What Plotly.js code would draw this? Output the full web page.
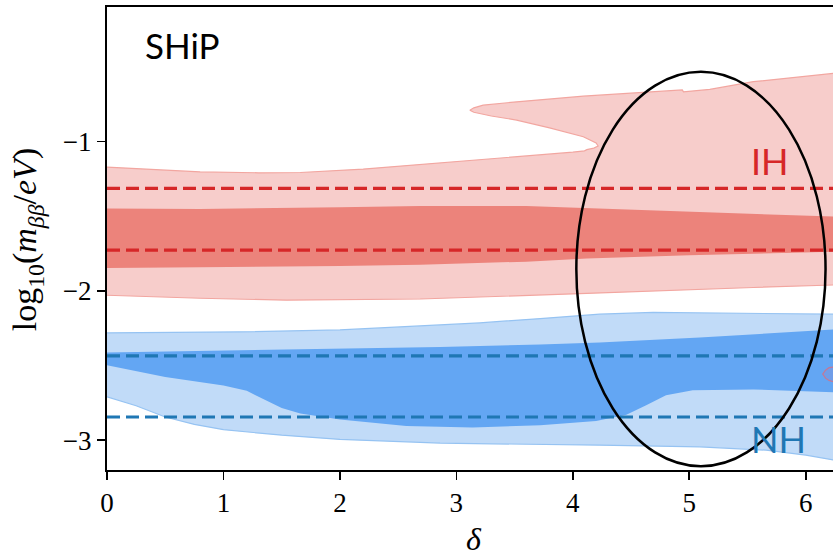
<!DOCTYPE html>
<html>
<head>
<meta charset="utf-8">
<script src="https://cdn.plot.ly/plotly-3.0.1.min.js"></script>
<style>html,body{margin:0;padding:0;background:#fff;}#chart{width:833px;height:558px;}</style>
</head>
<body>
<div id="chart"></div>
<script>
// ---- data ----
// IH 2-sigma region (light red): outer boundary path, upper part (incl. the tongue)
const ihOuterUpperX = [0, 0.4, 0.8, 1.3, 1.66, 2.2, 2.69, 2.94, 3.2, 3.517, 3.8, 4.0, 4.10, 4.12, 4.18, 4.217, 4.2, 4.15, 4.10, 4.09, 3.8, 3.517, 3.3, 3.23, 3.15, 3.116, 3.15, 3.23, 3.517, 4.09, 4.66, 4.94, 4.95, 5.176, 5.55, 6.0, 6.29];
const ihOuterUpperY = [-1.172, -1.19, -1.204, -1.21, -1.208, -1.185, -1.155, -1.137, -1.125, -1.103, -1.085, -1.072, -1.063, -1.055, -1.045, -1.031, -1.01, -0.99, -0.975, -0.969, -0.909, -0.857, -0.83, -0.819, -0.805, -0.791, -0.775, -0.757, -0.735, -0.697, -0.67, -0.655, -0.668, -0.652, -0.60, -0.565, -0.54];
const ihOuterLowerX = [0, 0.8, 1.54, 2.69, 3.0, 4.12, 5.55, 6.29];
const ihOuterLowerY = [-2.03, -2.05, -2.063, -2.055, -2.045, -2.018, -1.978, -1.96];
// IH 1-sigma region (dark red)
const ihInnerX = [0, 0.8, 2.0, 2.69, 3.6, 4.12, 5.0, 5.55, 6.12, 6.29];
const ihInnerTop = [-1.449, -1.452, -1.44, -1.433, -1.433, -1.447, -1.47, -1.485, -1.50, -1.505];
const ihInnerBot = [-1.847, -1.842, -1.834, -1.825, -1.805, -1.784, -1.762, -1.75, -1.741, -1.738];
// NH 2-sigma region (light blue)
const nhOuterTopX = [0, 1.14, 2.0, 2.57, 3.2, 3.72, 4.23, 4.69, 5.09, 5.7, 6.29];
const nhOuterTopY = [-2.282, -2.275, -2.262, -2.242, -2.215, -2.186, -2.157, -2.145, -2.148, -2.153, -2.157];
const nhOuterBotX = [0, 0.25, 0.5, 0.75, 1.0, 1.5, 2.0, 2.86, 4.23, 5.09, 5.66, 6.0, 6.29];
const nhOuterBotY = [-2.71, -2.77, -2.845, -2.895, -2.93, -2.967, -2.995, -3.02, -3.034, -3.045, -3.067, -3.10, -3.14];
// NH 1-sigma region (dark blue)
const nhInnerTopX = [0, 1.71, 2.86, 3.72, 4.23, 5.09, 6.29];
const nhInnerTopY = [-2.413, -2.393, -2.376, -2.36, -2.346, -2.313, -2.257];
const nhInnerBotX = [0, 0.5, 0.8, 1.0, 1.2, 1.35, 1.5, 1.66, 2.0, 2.57, 3.14, 3.72, 4.2, 4.46, 4.63, 4.80, 5.03, 5.55, 6.29];
const nhInnerBotY = [-2.498, -2.577, -2.61, -2.635, -2.67, -2.725, -2.785, -2.822, -2.862, -2.905, -2.916, -2.90, -2.872, -2.83, -2.766, -2.70, -2.666, -2.661, -2.68];
// small contour near right edge
const smallX = [6.30, 6.24, 6.2, 6.17, 6.146, 6.17, 6.2, 6.24, 6.30];
const smallY = [-2.505, -2.508, -2.515, -2.532, -2.558, -2.585, -2.60, -2.61, -2.613];
// reference (dashed) levels
const ihLevels = [-1.315, -1.728];
const nhLevels = [-2.436, -2.845];
const dashX = [0, 6.3];
// ellipse (SHiP sensitivity region)
const ellX = [4.03, 6.17];
const ellY = [-3.175, -0.534];
// axis ticks
const xTicks = [0, 1, 2, 3, 4, 5, 6];
const yTicks = [-1, -2, -3];

function band(xu, yu, xl, yl) {
  return { x: xu.concat(xl.slice().reverse()), y: yu.concat(yl.slice().reverse()) };
}

const traces = [];
const ihO = band(ihOuterUpperX, ihOuterUpperY, ihOuterLowerX, ihOuterLowerY);
traces.push({x: ihO.x, y: ihO.y, mode: 'lines', fill: 'toself', fillcolor: 'rgb(247,205,203)',
  line: {color: 'rgb(242,166,160)', width: 1.2}, hoverinfo: 'skip', showlegend: false});
const ihI = band(ihInnerX, ihInnerTop, ihInnerX, ihInnerBot);
traces.push({x: ihI.x, y: ihI.y, mode: 'lines', fill: 'toself', fillcolor: 'rgb(236,131,123)',
  line: {width: 0, color: 'rgb(236,131,123)'}, hoverinfo: 'skip', showlegend: false});
const nhO = band(nhOuterTopX, nhOuterTopY, nhOuterBotX, nhOuterBotY);
traces.push({x: nhO.x, y: nhO.y, mode: 'lines', fill: 'toself', fillcolor: 'rgb(193,219,248)',
  line: {color: 'rgb(150,195,242)', width: 1.2}, hoverinfo: 'skip', showlegend: false});
const nhI = band(nhInnerTopX, nhInnerTopY, nhInnerBotX, nhInnerBotY);
traces.push({x: nhI.x, y: nhI.y, mode: 'lines', fill: 'toself', fillcolor: 'rgb(99,166,243)',
  line: {width: 0, color: 'rgb(99,166,243)'}, hoverinfo: 'skip', showlegend: false});
traces.push({x: smallX, y: smallY, mode: 'lines', fill: 'toself', fillcolor: 'rgba(150,130,200,0.25)',
  line: {color: 'rgb(196,120,150)', width: 1.2}, hoverinfo: 'skip', showlegend: false});
ihLevels.forEach(v => traces.push({x: dashX, y: [v, v], mode: 'lines',
  line: {color: '#d62728', width: 3.2, dash: '13px,6px'}, hoverinfo: 'skip', showlegend: false}));
nhLevels.forEach(v => traces.push({x: dashX, y: [v, v], mode: 'lines',
  line: {color: '#1f77b4', width: 3.2, dash: '13px,6px'}, hoverinfo: 'skip', showlegend: false}));

const serif = 'Liberation Serif, DejaVu Serif, serif';
const sans = 'Lato, DejaVu Sans, sans-serif';

const layout = {
  width: 833, height: 558,
  margin: {l: 107, r: 0, t: 7, b: 88},
  paper_bgcolor: '#fff', plot_bgcolor: '#fff',
  showlegend: false,
  xaxis: {range: [0, 6.234], tickvals: xTicks, ticktext: xTicks.map(String),
    showgrid: false, zeroline: false, showline: true, mirror: true, linecolor: '#000', linewidth: 2,
    ticks: 'outside', ticklen: 8, tickwidth: 1.6, tickcolor: '#000',
    tickfont: {family: serif, size: 27, color: '#000'}},
  yaxis: {range: [-3.2, -0.1], tickvals: yTicks, ticktext: yTicks.map(v => '\u2212' + Math.abs(v)),
    showgrid: false, zeroline: false, showline: true, mirror: false, linecolor: '#000', linewidth: 2,
    ticks: 'outside', ticklen: 8, tickwidth: 1.6, tickcolor: '#000',
    tickfont: {family: serif, size: 27, color: '#000'}},
  shapes: [{type: 'circle', xref: 'x', yref: 'y', x0: ellX[0], x1: ellX[1], y0: ellY[0], y1: ellY[1],
    line: {color: '#000', width: 2.5}, layer: 'above'}],
  annotations: [
    {text: 'SHiP', xref: 'paper', yref: 'paper', x: 0.049, y: 0.918, xanchor: 'left', yanchor: 'middle',
      showarrow: false, font: {family: sans, size: 35, color: '#000'}},
    {text: 'IH', xref: 'paper', yref: 'paper', x: 0.884, y: 0.667, xanchor: 'left', yanchor: 'middle',
      showarrow: false, font: {family: sans, size: 36, color: '#d62728'}},
    {text: 'NH', xref: 'paper', yref: 'paper', x: 0.884, y: 0.066, xanchor: 'left', yanchor: 'middle',
      showarrow: false, font: {family: sans, size: 36, color: '#1f77b4'}},
    {text: 'log<sub>10</sub>(<i>m</i><sub><i>\u03b2\u03b2</i></sub>/<i>eV</i>)', xref: 'paper', yref: 'paper',
      x: -0.109, y: 0.498, xanchor: 'center', yanchor: 'middle', textangle: -90,
      showarrow: false, font: {family: serif, size: 34, color: '#000'}},
    {text: '<i>\u03b4</i>', xref: 'paper', yref: 'paper', x: 0.506, y: -0.148, xanchor: 'center', yanchor: 'middle',
      showarrow: false, font: {family: serif, size: 32, color: '#000'}}
  ]
};

Plotly.newPlot('chart', traces, layout, {staticPlot: true, displayModeBar: false});
</script>
</body>
</html>
